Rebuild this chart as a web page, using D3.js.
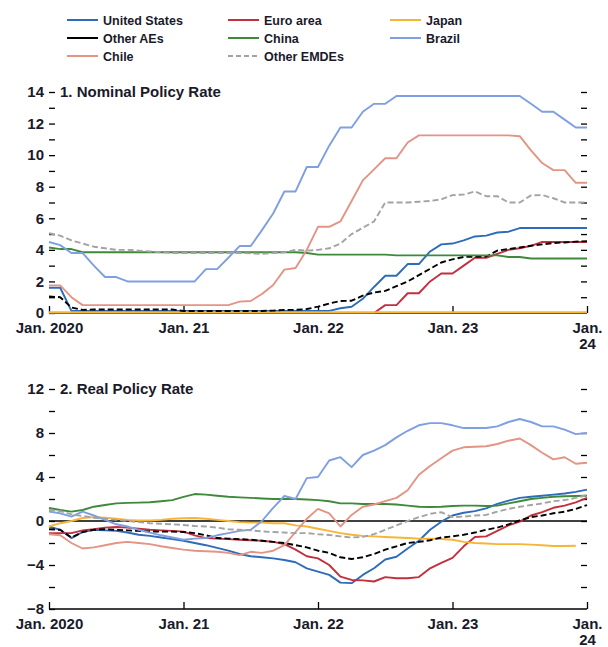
<!DOCTYPE html>
<html>
<head>
<meta charset="utf-8">
<script src="https://cdn.jsdelivr.net/npm/d3@7"></script>
<style>
  body { margin: 0; background: #fff; }
  svg { display: block; font-family: "Liberation Sans", Arial, sans-serif; }
  .axis path.domain { display: none; }
  .axis line { stroke: #000; stroke-width: 1.3; }
  .ylab text { font-size: 15px; font-weight: bold; fill: #1a1a2a; }
  .xlab text { font-size: 15px; font-weight: bold; fill: #1a1a2a; }
</style>
</head>
<body>
<svg width="608" height="647"></svg>
<script>
// months from Jan. 2020 (0) to Jan. 2024 (48)
const xTickVals = [0, 12, 24, 36, 48]
const xTickLabels = ['Jan. 2020', 'Jan. 21', 'Jan. 22', 'Jan. 23', 'Jan.|24']

const seriesNames = ['United States', 'Euro area', 'Japan', 'Other AEs', 'China', 'Brazil', 'Chile', 'Other EMDEs']

// panel 1: nominal policy rate (percent)
const usNom = [1.6,1.6,0.13,0.13,0.13,0.13,0.13,0.13,0.13,0.13,0.13,0.13,
  0.13,0.13,0.13,0.13,0.13,0.13,0.13,0.13,0.13,0.13,0.13,0.13,
  0.13,0.13,0.3,0.4,0.9,1.65,2.36,2.36,3.1,3.1,3.9,4.35,
  4.4,4.6,4.85,4.9,5.1,5.15,5.38,5.38,5.38,5.38,5.38,5.38,
  5.38]
const euroNom = [0,0,0,0,0,0,0,0,0,0,0,0,
  0,0,0,0,0,0,0,0,0,0,0,0,
  0,0,0,0,0,0,0.5,0.5,1.25,1.25,2.0,2.5,
  2.5,3.0,3.5,3.5,3.75,4.0,4.1,4.25,4.5,4.5,4.5,4.5,
  4.5]
const japanNom = [0.05,0.05,0.05,0.05,0.05,0.05,0.05,0.05,0.05,0.05,0.05,0.05,
  0.05,0.05,0.05,0.05,0.05,0.05,0.05,0.05,0.05,0.05,0.05,0.05,
  0.05,0.05,0.05,0.05,0.05,0.05,0.05,0.05,0.05,0.05,0.05,0.05,
  0.05,0.05,0.05,0.05,0.05,0.05,0.05,0.05,0.05,0.05,0.05,0.05,
  0.05]
const otherAEsNom = [1.05,1.0,0.35,0.2,0.22,0.22,0.22,0.22,0.22,0.22,0.22,0.22,
  0.13,0.13,0.13,0.13,0.13,0.13,0.13,0.13,0.15,0.2,0.2,0.25,
  0.4,0.6,0.76,0.78,1.1,1.3,1.4,1.7,2.0,2.4,2.8,3.2,
  3.4,3.55,3.56,3.58,3.95,4.05,4.15,4.26,4.35,4.43,4.47,4.52,
  4.55]
const chinaNom = [4.15,4.05,4.05,3.85,3.85,3.85,3.85,3.85,3.85,3.85,3.85,3.85,
  3.85,3.85,3.85,3.85,3.85,3.85,3.85,3.85,3.85,3.85,3.85,3.8,
  3.7,3.7,3.7,3.7,3.7,3.7,3.7,3.65,3.65,3.65,3.65,3.65,
  3.65,3.65,3.65,3.65,3.65,3.55,3.55,3.45,3.45,3.45,3.45,3.45,
  3.45]
const brazilNom = [4.5,4.3,3.8,3.8,3.0,2.28,2.28,2.0,2.0,2.0,2.0,2.0,
  2.0,2.0,2.78,2.78,3.5,4.24,4.24,5.25,6.3,7.7,7.7,9.25,
  9.25,10.6,11.75,11.75,12.75,13.25,13.25,13.75,13.75,13.75,13.75,13.75,
  13.75,13.75,13.75,13.75,13.75,13.75,13.75,13.25,12.75,12.75,12.25,11.75,
  11.75]
const chileNom = [1.75,1.75,1.0,0.5,0.5,0.5,0.5,0.5,0.5,0.5,0.5,0.5,
  0.5,0.5,0.5,0.5,0.5,0.72,0.76,1.2,1.77,2.75,2.85,4.0,
  5.46,5.46,5.8,7.1,8.4,9.1,9.8,9.8,10.8,11.25,11.25,11.25,
  11.25,11.25,11.25,11.25,11.25,11.25,11.2,10.3,9.5,9.05,9.05,8.25,
  8.25]
const otherEMDEsNom = [5.05,4.9,4.6,4.4,4.2,4.1,4.0,4.0,3.95,3.9,3.85,3.8,
  3.8,3.8,3.8,3.8,3.8,3.8,3.78,3.75,3.8,3.85,4.0,3.95,
  4.0,4.1,4.4,5.0,5.4,5.8,7.0,7.0,7.0,7.05,7.1,7.2,
  7.47,7.5,7.7,7.4,7.4,7.0,7.0,7.45,7.47,7.27,7.0,7.0,
  7.0]

// panel 2: real policy rate (percent)
const usReal = [-0.5,-0.8,-1.55,-1.0,-0.8,-0.85,-0.9,-1.05,-1.25,-1.35,-1.5,-1.65,
  -1.8,-2.0,-2.2,-2.45,-2.7,-3.0,-3.2,-3.3,-3.4,-3.55,-3.75,-4.3,
  -4.6,-4.9,-5.6,-5.65,-4.9,-4.3,-3.5,-3.25,-2.5,-1.8,-0.8,-0.06,
  0.5,0.75,0.9,1.15,1.55,1.85,2.1,2.2,2.3,2.4,2.5,2.65,
  2.85]
const euroReal = [-1.1,-1.1,-1.1,-0.85,-0.75,-0.6,-0.55,-0.6,-0.7,-0.8,-0.85,-0.9,
  -0.97,-1.3,-1.55,-1.6,-1.65,-1.7,-1.75,-1.8,-1.9,-2.1,-2.6,-3.2,
  -3.4,-4.0,-5.06,-5.36,-5.4,-5.5,-5.1,-5.2,-5.2,-5.1,-4.3,-3.8,
  -3.35,-2.3,-1.45,-1.4,-0.9,-0.4,-0.06,0.5,0.8,1.2,1.4,1.7,
  2.1]
const japanReal = [-0.5,-0.2,0.0,0.27,0.35,0.3,0.2,0.1,0.05,0.05,0.1,0.2,
  0.25,0.27,0.2,0.1,0.0,-0.1,-0.15,-0.15,-0.2,-0.2,-0.4,-0.5,
  -0.7,-0.9,-1.1,-1.25,-1.35,-1.4,-1.45,-1.5,-1.55,-1.6,-1.62,-1.64,
  -1.7,-1.9,-2.0,-2.05,-2.1,-2.1,-2.1,-2.15,-2.2,-2.27,-2.27,-2.25,
  null]
const otherAEsReal = [-0.75,-0.8,-1.5,-1.0,-0.8,-0.75,-0.8,-0.85,-0.9,-0.95,-0.97,-0.97,
  -1.0,-1.1,-1.3,-1.55,-1.6,-1.65,-1.7,-1.8,-1.9,-2.0,-2.2,-2.4,
  -2.7,-2.9,-3.3,-3.45,-3.3,-3.0,-2.6,-2.3,-2.0,-1.9,-1.75,-1.5,
  -1.4,-1.25,-1.05,-0.8,-0.6,-0.3,0.05,0.35,0.5,0.7,0.85,1.1,
  1.45]
const chinaReal = [1.18,1.0,0.85,1.0,1.3,1.45,1.6,1.65,1.67,1.7,1.8,1.9,
  2.2,2.45,2.4,2.3,2.2,2.15,2.1,2.05,2.0,2.0,2.0,1.95,
  1.9,1.8,1.6,1.6,1.55,1.55,1.55,1.5,1.4,1.3,1.27,1.3,
  1.36,1.4,1.4,1.36,1.4,1.6,1.8,2.0,2.1,2.2,2.25,2.27,
  2.3]
const brazilReal = [0.85,0.7,0.4,0.85,0.5,0.1,-0.3,-0.5,-0.8,-1.06,-1.3,-1.5,
  -1.7,-1.6,-1.55,-1.3,-1.1,-0.9,-0.8,0.0,1.2,2.27,2.0,3.9,
  4.0,5.5,5.8,4.9,6.0,6.4,6.9,7.6,8.2,8.7,8.9,8.9,
  8.7,8.45,8.45,8.45,8.6,9.0,9.27,9.0,8.6,8.6,8.3,7.9,
  8.0]
const chileReal = [-1.2,-1.3,-2.0,-2.5,-2.4,-2.2,-2.0,-1.9,-2.0,-2.1,-2.3,-2.45,
  -2.6,-2.7,-2.75,-2.8,-2.9,-3.1,-2.8,-2.9,-2.7,-2.2,-1.0,0.2,
  1.1,0.7,-0.5,0.55,1.3,1.5,1.8,2.1,2.8,4.2,5.0,5.7,
  6.4,6.7,6.75,6.8,7.0,7.3,7.5,6.9,6.2,5.6,5.8,5.2,
  5.3]
const otherEMDEsReal = [1.0,0.9,0.6,0.45,0.3,0.2,0.1,0.0,-0.1,-0.2,-0.25,-0.3,
  -0.36,-0.45,-0.5,-0.6,-0.75,-0.8,-0.85,-0.95,-1.0,-1.05,-1.1,-1.1,
  -1.2,-1.27,-1.4,-1.5,-1.45,-1.2,-0.8,-0.4,0.0,0.35,0.65,0.8,
  0.35,0.4,0.5,0.55,0.85,1.1,1.3,1.45,1.6,1.8,1.9,2.1,
  2.36]

const colors = {
  'United States': '#2d6cb8',
  'Euro area': '#c22f3d',
  'Japan': '#f6b537',
  'Other AEs': '#000000',
  'China': '#3f8a3a',
  'Brazil': '#7e9fe0',
  'Chile': '#e39484',
  'Other EMDEs': '#a3a3a3'
}
const dashes = { 'Other AEs': '6,3', 'Other EMDEs': '6,3' }

const svg = d3.select('svg')
svg.append('rect').attr('width', 608).attr('height', 647).attr('fill', '#fff')

const x = d3.scaleLinear().domain([0, 48]).range([49, 587])

// legend, three columns
const legendCols = [67, 228, 390]
const legendRows = [20, 38, 56]
seriesNames.forEach((name, k) => {
  const cx = legendCols[k % 3]
  const cy = legendRows[Math.floor(k / 3)]
  svg.append('line')
    .attr('x1', cx).attr('x2', cx + 31)
    .attr('y1', cy).attr('y2', cy)
    .attr('stroke', colors[name])
    .attr('stroke-width', 2)
    .attr('stroke-dasharray', name === 'Other EMDEs' ? '5,3' : null)
  svg.append('text')
    .attr('x', cx + 36).attr('y', cy + 5)
    .attr('font-size', '12.5px')
    .attr('font-weight', 'bold')
    .attr('fill', '#1a1a2a')
    .text(name)
})

function drawPanel(cfg) {
  const y = d3.scaleLinear().domain(cfg.domain).range(cfg.range)
  const g = svg.append('g')

  // left ticks with labels
  g.append('g')
    .attr('class', 'axis ylab')
    .attr('transform', `translate(${x(0)},0)`)
    .call(d3.axisLeft(y).tickValues(cfg.minorTicks).tickSize(-6).tickPadding(5)
      .tickFormat(d => cfg.labelTicks.includes(d) ? (d < 0 ? '\u2212' + Math.abs(d) : d) : ''))

  // right ticks
  g.append('g')
    .attr('class', 'axis')
    .attr('transform', `translate(${x(48)},0)`)
    .call(d3.axisRight(y).tickValues(cfg.rightTicks).tickSize(-6).tickFormat(''))

  // bottom axis
  const xa = g.append('g')
    .attr('class', 'axis xlab')
    .attr('transform', `translate(0,${y(cfg.domain[0])})`)
    .call(d3.axisBottom(x).tickValues(xTickVals).tickSize(-7).tickPadding(8)
      .tickFormat((d, i) => xTickLabels[i]))
  xa.selectAll('.tick text').each(function (d, i) {
    const parts = xTickLabels[i].split('|')
    const t = d3.select(this).text(null).attr('dy', null).attr('y', 20)
    parts.forEach((p, j) => {
      t.append('tspan').attr('x', 0).attr('dy', j === 0 ? 0 : 16).text(p)
    })
  })
  if (cfg.baseline) {
    g.append('line')
      .attr('x1', x(0)).attr('x2', x(48))
      .attr('y1', y(cfg.domain[0])).attr('y2', y(cfg.domain[0]))
      .attr('stroke', '#000').attr('stroke-width', 1.5)
  }
  if (cfg.zeroLine) {
    g.append('line')
      .attr('x1', x(0)).attr('x2', x(48))
      .attr('y1', y(0)).attr('y2', y(0))
      .attr('stroke', '#000').attr('stroke-width', 1.5)
  }

  // title
  g.append('text')
    .attr('x', 60).attr('y', y(cfg.domain[1]) + 5)
    .attr('font-size', '15px').attr('font-weight', 'bold')
    .attr('fill', '#1a1a2a')
    .text(cfg.title)

  const line = d3.line()
    .defined(d => d != null)
    .x((d, i) => x(i))
    .y(d => y(d))

  seriesNames.forEach((name, k) => {
    g.append('path')
      .datum(cfg.series[k])
      .attr('fill', 'none')
      .attr('stroke', colors[name])
      .attr('stroke-width', 1.9)
      .attr('stroke-linejoin', 'round')
      .attr('stroke-dasharray', dashes[name] || null)
      .attr('d', line)
  })
}

drawPanel({
  title: '1. Nominal Policy Rate',
  domain: [0, 14],
  range: [313, 92],
  minorTicks: d3.range(0, 15, 1),
  labelTicks: [0, 2, 4, 6, 8, 10, 12, 14],
  rightTicks: d3.range(1, 15, 1),
  baseline: true,
  zeroLine: false,
  series: [usNom, euroNom, japanNom, otherAEsNom, chinaNom, brazilNom, chileNom, otherEMDEsNom]
})

drawPanel({
  title: '2. Real Policy Rate',
  domain: [-8, 12],
  range: [609, 389],
  minorTicks: d3.range(-8, 13, 2),
  labelTicks: [-8, -4, 0, 4, 8, 12],
  rightTicks: d3.range(-6, 13, 2),
  baseline: true,
  zeroLine: true,
  series: [usReal, euroReal, japanReal, otherAEsReal, chinaReal, brazilReal, chileReal, otherEMDEsReal]
})
</script>
</body>
</html>
